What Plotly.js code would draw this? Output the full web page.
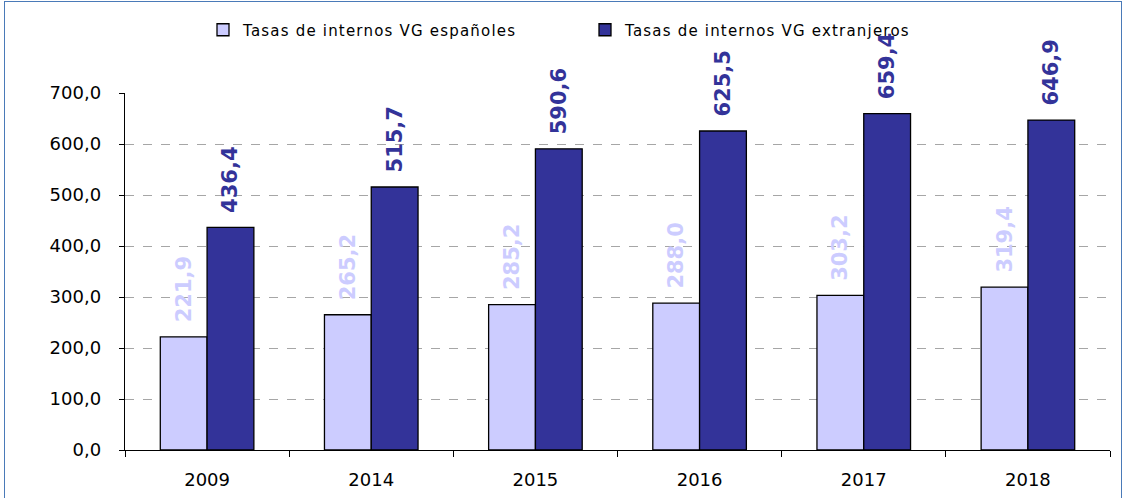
<!DOCTYPE html>
<html><head><meta charset="utf-8">
<script src="https://cdn.plot.ly/plotly-3.0.1.min.js"></script>
<style>
html,body{margin:0;padding:0;background:#fff;}
#frame{position:absolute;left:4px;top:1px;width:1118px;height:510px;border:1.5px solid #4a7ab8;box-sizing:border-box;}
#chart{position:absolute;left:0;top:0;width:1127px;height:498px;}
.legendtext{letter-spacing:1.2px;}
</style></head>
<body>
<div id="frame"></div>
<div id="chart"></div>
<script>
const years = ['2009','2014','2015','2016','2017','2018'];
const espanoles = [221.9, 265.2, 285.2, 288.0, 303.2, 319.4];
const extranjeros = [436.4, 515.7, 590.6, 625.5, 659.4, 646.9];
const seriesNames = ['Tasas de internos VG españoles', 'Tasas de internos VG extranjeros'];

const font = 'DejaVu Sans, Verdana, sans-serif';
const pad = '\u00a0\u2009';
const traces = [
  {type:'bar', x:years, y:espanoles, name:seriesNames[0],
   marker:{color:'#ccccff', line:{color:'#000', width:1.3}},
   texttemplate:pad + '%{y:.1f}', textposition:'outside', textangle:-90, constraintext:'none',
   textfont:{family:font, size:21, color:'#ccccff', weight:'bold'}, cliponaxis:false},
  {type:'bar', x:years, y:extranjeros, name:seriesNames[1],
   marker:{color:'#333399', line:{color:'#000', width:1.3}},
   texttemplate:pad + '%{y:.1f}', textposition:'outside', textangle:-90, constraintext:'none',
   textfont:{family:font, size:21, color:'#333399', weight:'bold'}, cliponaxis:false}
];
const layout = {
  width:1127, height:498,
  margin:{l:125, r:17, t:93, b:48, autoexpand:false},
  paper_bgcolor:'rgba(0,0,0,0)', plot_bgcolor:'rgba(0,0,0,0)',
  separators:',.',
  barmode:'group', bargap:0.43, bargroupgap:0,
  font:{family:font, size:18, color:'#000'},
  showlegend:true,
  legend:{orientation:'h', x:203/1127, xref:'container', xanchor:'left', y:1-30/498, yref:'container', yanchor:'middle',
          font:{family:font, size:15, color:'#000'}, traceorder:'normal', entrywidth:337, entrywidthmode:'pixels'},
  xaxis:{type:'category', showline:true, linecolor:'#000', linewidth:1.3,
         ticks:'outside', ticklen:6, tickcolor:'#000', tickson:'boundaries',
         tickfont:{family:font, size:18}, showgrid:false, ticklabelstandoff:13},
  yaxis:{range:[0,700], dtick:100, tickformat:'.1f', showline:true, linecolor:'#000', linewidth:1.3,
         ticks:'outside', ticklen:5, tickcolor:'#000',
         gridcolor:'#a6a6a6', griddash:'dash', gridwidth:1, ticklabelstandoff:14,
         tickfont:{family:font, size:18}, zeroline:false}
};
Plotly.newPlot('chart', traces, layout, {displayModeBar:false, staticPlot:true});
</script>
</body></html>
